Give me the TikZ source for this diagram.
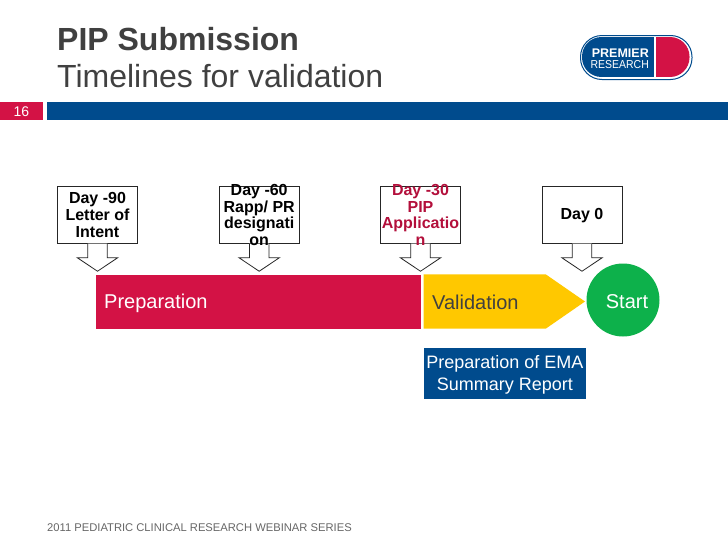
\documentclass[tikz,border=0pt]{standalone}
\usepackage{fontspec}
\setmainfont{Liberation Sans}
\usepackage{xcolor}
\usetikzlibrary{positioning, calc, arrows.meta}
\definecolor{pipblue}{HTML}{004B8D}
\definecolor{pipred}{HTML}{D31245}
\definecolor{pipyellow}{HTML}{FFC800}
\definecolor{pipgreen}{HTML}{0DB14B}
\definecolor{piptext}{HTML}{404040}
\begin{document}
\begin{tikzpicture}[
        x=1pt, y=-1pt,
        % Define styles for the nodes
        base_node/.style={rectangle, inner sep=0pt, align=center},
        day_node/.style={base_node, draw=black!85, line width=0.8pt, fill=white, minimum width=80pt, minimum height=56.5pt},
        day_text/.style={base_node, font=\fontsize{16}{16.6}\selectfont\bfseries},
        bar_node/.style={base_node, minimum height=54.4pt},
        bar_text/.style={base_node, anchor=west, font=\fontsize{20}{22}\selectfont},
        title_node/.style={base_node, anchor=base west, text=piptext, font=\fontsize{32}{34}\selectfont},
        % Styles for the block arrows
        block_arrow/.style={draw=black!85, line width=0.8pt, fill=white}
    ]
    \useasboundingbox (0,0) rectangle (728,546);

    % HEADER
    \node (title1) [title_node] at (57,50) {\bfseries PIP Submission};
    \node (title2) [title_node] at (57,87) {Timelines for validation};

    \node (page_no) [base_node, fill=pipred, text=white, minimum width=42.5pt, minimum height=18pt, font=\fontsize{14}{16}\selectfont, anchor=north west] at (0,102) {16};
    \node (head_bar) [base_node, fill=pipblue, minimum width=681pt, minimum height=18pt, right=3.8pt of page_no] {};

    % LOGO
    \node (logo) [base_node, draw=pipblue, line width=1pt, fill=white, rounded corners=21.5pt, minimum width=111.5pt, minimum height=44pt, anchor=north west] at (580,35) {};
    \begin{scope}
        \clip[rounded corners=19.5pt] (582,37) rectangle (689.5,77);
        \fill[pipblue] (582,37) rectangle (654,77);
        \fill[pipred] (656,37) rectangle (689.5,77);
    \end{scope}
    \node (logo_top) [base_node, text=white, font=\fontsize{12.5}{14}\selectfont\bfseries, anchor=base east] at (649,57) {PREMIER};
    \node (logo_bot) [base_node, text=white, font=\fontsize{11.5}{13}\selectfont, xscale=0.91, anchor=base east] at (649,68.5) {RESEARCH};

    % DAY BOXES
    \node (day90) [day_node] at (97.5,215) {};
    \node (day60) [day_node, right=80.9pt of day90] {};
    \node (day30) [day_node, right=80.5pt of day60] {};
    \node (day0)  [day_node, right=80.7pt of day30] {};

    \foreach \b in {day90, day60, day30, day0} {
        \draw[block_arrow] ($(\b.south)+(-9.8,0)$) -- ++(0,14) -- ++(-10.5,0) -- ++(20.3,13.6) -- ++(20.3,-13.6) -- ++(-10.5,0) -- ++(0,-14);
    }

    \node (day90_txt) [day_text] at (day90) {Day -90\\Letter of\\Intent};
    \node (day60_txt) [day_text] at (day60) {Day -60\\Rapp/ PR\\designati\\on};
    \node (day30_txt) [day_text, text=pipred!85!black] at (day30) {Day -30\\PIP\\Applicatio\\n};
    \node (day0_txt)  [day_text, yshift=-1pt] at (day0) {Day 0};

    % TIMELINE
    \node (prep) [bar_node, fill=pipred, minimum width=325pt, anchor=north west] at (96,274.3) {};
    \node (prep_txt) [bar_text, text=white] at ($(prep.west)+(8,2)$) {Preparation};

    \fill[pipyellow] (423.7,274.3) -- (545.7,274.3) -- (585,301.5) -- (545.7,328.7) -- (423.7,328.7) -- cycle;
    \node (valid_txt) [bar_text, text=piptext] at (432,302.5) {Validation};

    \node (start) [circle, inner sep=0pt, fill=pipgreen, minimum size=73pt] at (623,300) {};
    \node (start_txt) [bar_text, text=white, anchor=center] at ($(start.center)+(4,1.5)$) {Start};

    \node (report) [base_node, fill=pipblue, minimum width=162pt, minimum height=51.5pt, anchor=north west] at (423.7,347.6) {};
    \node (report_txt) [base_node, text=white, font=\fontsize{18}{22}\selectfont] at ($(report.center)+(0,1.5)$) {Preparation of EMA\\Summary Report};

    % FOOTER
    \node (footer) [base_node, text=black!60, font=\fontsize{11.2}{13}\selectfont, anchor=base west] at (47,531) {2011 PEDIATRIC CLINICAL RESEARCH WEBINAR SERIES};
\end{tikzpicture}
\end{document}
